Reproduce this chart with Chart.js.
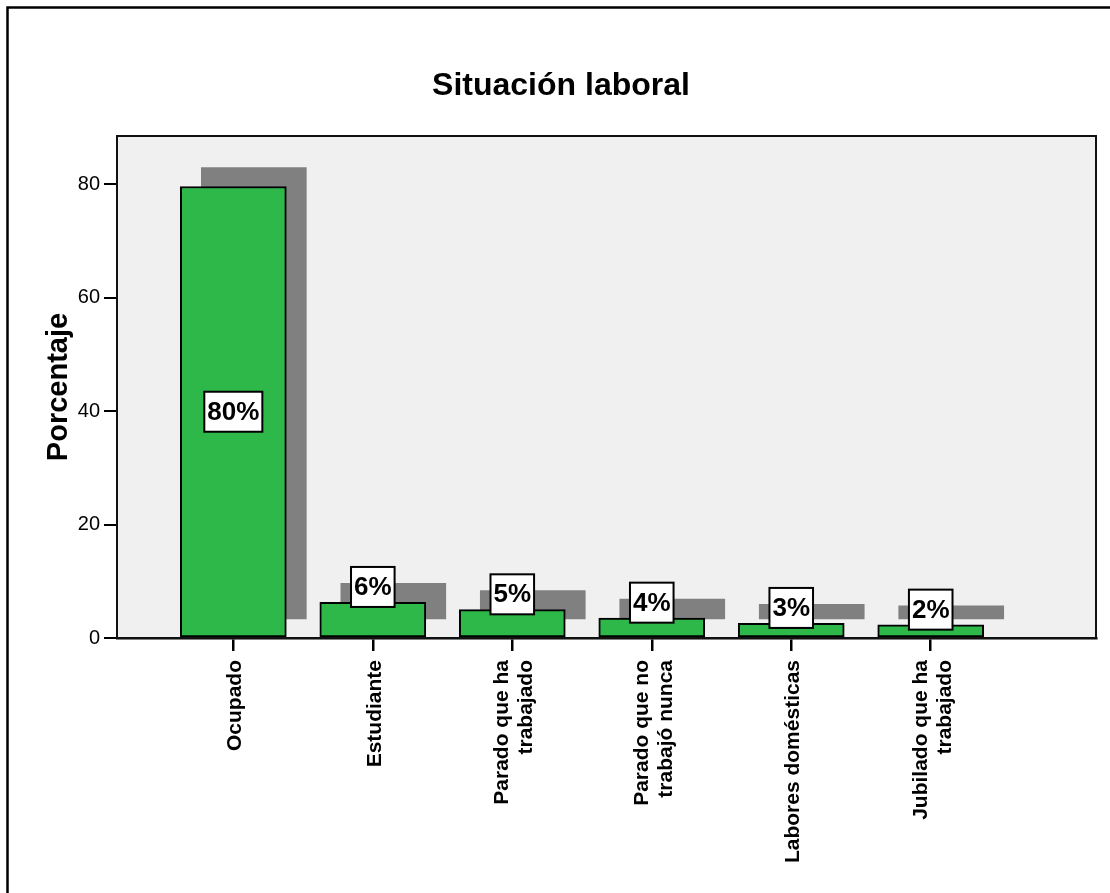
<!DOCTYPE html>
<html>
<head>
<meta charset="utf-8">
<script src="https://cdn.jsdelivr.net/npm/chart.js@4"></script>
<style>
  body { margin: 0; background: #fff; }
  #wrap { width: 1110px; height: 893px; }
</style>
</head>
<body>
<div id="wrap"><canvas id="situacionChart"></canvas></div>
<script>
// data
var categories = [
  "Ocupado",
  "Estudiante",
  ["Parado que ha", "trabajado"],
  ["Parado que no", "trabajó nunca"],
  "Labores domésticas",
  ["Jubilado que ha", "trabajado"]
];
var percentValues = [79.6, 6.3, 5.0, 3.53, 2.6, 2.3];
var percentLabels = ["80%", "6%", "5%", "4%", "3%", "2%"];
var yTicks = [0, 20, 40, 60, 80];

var FONT = "'Liberation Sans', Arial, Helvetica, sans-serif";
Chart.defaults.font.family = FONT;
Chart.defaults.color = "#000";

// shadow offset (in axis units) for the SPSS style drop shadow
var shadowDx = 0.147;
var shadowDy = 3.35;

var greenData = percentValues.map((v, i) => ({ x: i, y: v }));
var shadowData = percentValues.map((v, i) => ({ x: i + shadowDx, y: [shadowDy, v + shadowDy] }));

// background, frame, plot border, value boxes and category labels
var spssPlugin = {
  id: "spss",
  beforeDraw(chart) {
    var ctx = chart.ctx, a = chart.chartArea;
    ctx.save();
    ctx.fillStyle = "#fff";
    ctx.fillRect(0, 0, chart.width, chart.height);
    ctx.fillStyle = "#f0f0f0";
    ctx.fillRect(a.left, a.top, a.right - a.left, a.bottom - a.top);
    ctx.strokeStyle = "#000";
    ctx.lineWidth = 2.5;
    ctx.beginPath();
    ctx.moveTo(7.5, chart.height);
    ctx.lineTo(7.5, 7.5);
    ctx.lineTo(chart.width, 7.5);
    ctx.stroke();
    ctx.restore();
  },
  afterDatasetsDraw(chart) {
    var ctx = chart.ctx, a = chart.chartArea;
    var yScale = chart.scales.y, xScale = chart.scales.x;
    ctx.save();
    ctx.strokeStyle = "#111";
    ctx.lineWidth = 2;
    ctx.strokeRect(a.left, a.top, a.right - a.left, a.bottom - a.top);

    // value boxes
    var meta = chart.getDatasetMeta(0);
    ctx.font = "bold 26px " + FONT;
    ctx.textAlign = "center";
    ctx.textBaseline = "middle";
    meta.data.forEach((bar, i) => {
      var text = percentLabels[i];
      var w = ctx.measureText(text).width + 6;
      var h = 40;
      var cy;
      if (bar.base - bar.y > h + 20) {
        cy = (bar.y + bar.base) / 2;
      } else {
        cy = yScale.getPixelForValue(percentValues[i] + 2.7);
      }
      ctx.fillStyle = "#fff";
      ctx.fillRect(bar.x - w / 2, cy - h / 2, w, h);
      ctx.strokeStyle = "#000";
      ctx.lineWidth = 2;
      ctx.strokeRect(bar.x - w / 2, cy - h / 2, w, h);
      ctx.fillStyle = "#000";
      ctx.fillText(text, bar.x, cy + 1);
    });

    // category labels, rotated
    ctx.font = "bold 21px " + FONT;
    ctx.textAlign = "right";
    ctx.textBaseline = "middle";
    var lineH = 24;
    categories.forEach((label, i) => {
      var lines = Array.isArray(label) ? label : [label];
      var px = xScale.getPixelForValue(i) + 2;
      ctx.save();
      ctx.translate(px, a.bottom + 22);
      ctx.rotate(-Math.PI / 2);
      lines.forEach((line, j) => {
        ctx.fillText(line, 0, (j - (lines.length - 1) / 2) * lineH);
      });
      ctx.restore();
    });
    ctx.restore();
  }
};

var ctx = document.getElementById("situacionChart").getContext("2d");
new Chart(ctx, {
  type: "bar",
  data: {
    datasets: [
      {
        label: "Porcentaje",
        data: greenData,
        backgroundColor: "#2eb84a",
        borderColor: "#000",
        borderWidth: 2,
        borderSkipped: false,
        barThickness: 106,
        grouped: false
      },
      {
        label: "sombra",
        data: shadowData,
        backgroundColor: "#808080",
        borderWidth: 0,
        barThickness: 105,
        grouped: false
      }
    ]
  },
  options: {
    responsive: true,
    maintainAspectRatio: false,
    animation: false,
    events: [],
    layout: { padding: { left: 26, right: 14, top: 0, bottom: 0 } },
    plugins: {
      legend: { display: false },
      tooltip: { enabled: false },
      title: {
        display: true,
        text: "Situación laboral",
        font: { size: 32, weight: "bold" },
        color: "#000",
        padding: { top: 67, bottom: 30.6 }
      }
    },
    scales: {
      x: {
        type: "linear",
        offset: false,
        min: -0.834,
        max: 6.185,
        afterBuildTicks: scale => { scale.ticks = categories.map((_, i) => ({ value: i })); },
        afterFit: scale => { scale.height = 255; },
        grid: { offset: false, drawOnChartArea: false, drawTicks: true, tickLength: 13, color: "#000", lineWidth: 2.5 },
        border: { display: true, color: "#000", width: 2.5 },
        ticks: { display: false }
      },
      y: {
        min: 0,
        max: 88.5,
        afterBuildTicks: scale => { scale.ticks = yTicks.map(v => ({ value: v })); },
        afterFit: scale => { scale.width = 91; },
        grid: { drawOnChartArea: false, drawTicks: true, tickLength: 13, color: "#000", lineWidth: 2 },
        border: { display: true, color: "#000", width: 2 },
        ticks: { font: { size: 20 }, color: "#000", padding: 4 },
        title: {
          display: true,
          text: "Porcentaje",
          font: { size: 29, weight: "bold" },
          color: "#000",
          padding: { top: 16, bottom: 0 }
        }
      }
    }
  },
  plugins: [spssPlugin]
});
</script>
</body>
</html>
